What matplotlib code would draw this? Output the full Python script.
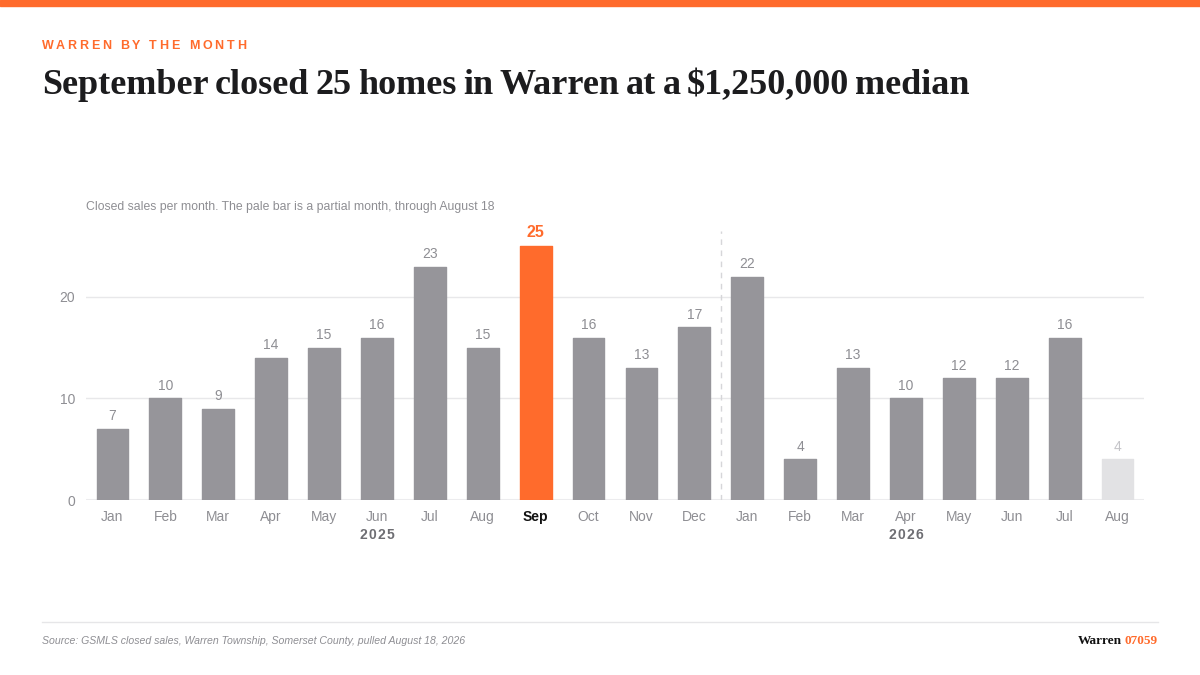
import matplotlib
matplotlib.use("Agg")
import matplotlib.pyplot as plt
from matplotlib.patches import Rectangle
from matplotlib.lines import Line2D

# ---- data ----
months = ["Jan", "Feb", "Mar", "Apr", "May", "Jun", "Jul", "Aug", "Sep", "Oct", "Nov", "Dec",
          "Jan", "Feb", "Mar", "Apr", "May", "Jun", "Jul", "Aug"]
sales = [7, 10, 9, 14, 15, 16, 23, 15, 25, 16, 13, 17,
         22, 4, 13, 10, 12, 12, 16, 4]
years = ["2025", "2026"]
year_label_index = [5, 15]
highlight_index = 8
partial_index = 19
yticks = [0, 10, 20]

title = "September closed 25 homes in Warren at a $1,250,000 median"
kicker = "WARREN BY THE MONTH"
subtitle = "Closed sales per month. The pale bar is a partial month, through August 18"
source = "Source: GSMLS closed sales, Warren Township, Somerset County, pulled August 18, 2026"

ORANGE = "#FF6B2C"
GRAY = "#96959A"
PALE = "#E2E2E4"
TXT_GRAY = "#8E8E93"
DARK = "#1C1C1E"

W, H = 1200, 675
fig = plt.figure(figsize=(12, 6.75), dpi=100)
fig.patch.set_facecolor("white")

def fx(px):
    return px / W

def fy(py):
    return 1 - py / H

# top stripe
fig.patches.append(Rectangle((0, fy(6)), 1, 6 / H, transform=fig.transFigure,
                             color=ORANGE, zorder=5))

renderer = fig.canvas.get_renderer()

def text_w(s, **kw):
    t = fig.text(0, 0, s, **kw)
    w = t.get_window_extent(renderer).width
    t.remove()
    return w

def spaced(x_px, y_px, s, target_w, center=False, **kw):
    """Letter-spaced (wider than natural) text of total width target_w."""
    n = len(s)
    natural = text_w(s, **kw)
    track = (target_w - natural) / (n - 1)
    x0 = x_px - target_w / 2 if center else x_px
    for i, ch in enumerate(s):
        if ch == " ":
            continue
        p = text_w(s[:i + 1], **kw) - text_w(ch, **kw) + track * i
        fig.text(fx(x0 + p), fy(y_px), ch, va="baseline", ha="left", **kw)

def tight_words(x_px, y_px, s, target_w, **kw):
    """Words at natural width, word gaps tightened so the line is target_w."""
    words = s.split(" ")
    ws = [text_w(w, **kw) for w in words]
    gap = (target_w - sum(ws)) / (len(words) - 1)
    x = x_px
    for w, wd in zip(words, ws):
        fig.text(fx(x), fy(y_px), w, va="baseline", ha="left", **kw)
        x += wd + gap

# kicker
spaced(42, 49, kicker, 204, fontsize=9, fontweight="bold", color=ORANGE,
       family="Liberation Sans")

# title
tight_words(42, 94, title, 928, fontsize=26, fontweight="bold", color=DARK,
            family="Liberation Serif")

# subtitle
fig.text(fx(86), fy(210), subtitle, fontsize=8.8, color=TXT_GRAY,
         family="Liberation Sans", va="baseline", ha="left")

# axes
ax = fig.add_axes([fx(86), fy(500), fx(1144) - fx(86), fy(231) - fy(500)])
ax.set_xlim(-0.5, len(sales) - 0.5)
ax.set_ylim(0, 26.5)
for s in ax.spines.values():
    s.set_visible(False)
ax.set_yticks(yticks)
ax.set_yticklabels([str(v) for v in yticks], color=TXT_GRAY, fontsize=10,
                   family="Liberation Sans")
ax.tick_params(axis="y", length=0, pad=8)
ax.grid(axis="y", color="#E8E8EA", linewidth=1)
ax.set_axisbelow(True)
ax.axhline(0, color="#EDEDEF", linewidth=1.5, zorder=0)

colors = []
for i in range(len(sales)):
    if i == highlight_index:
        colors.append(ORANGE)
    elif i == partial_index:
        colors.append(PALE)
    else:
        colors.append(GRAY)

x = list(range(len(sales)))
bars = ax.bar(x, sales, width=0.6, color=colors, edgecolor=colors, linewidth=1.0,
              zorder=3)
for b in bars:
    b.set_joinstyle("round")

for i, v in enumerate(sales):
    if i == highlight_index:
        ax.annotate(str(v), (i, v), xytext=(0, 4.5), textcoords="offset points",
                    ha="center", va="bottom", fontsize=11.5, fontweight="bold",
                    color=ORANGE, family="Liberation Sans")
    else:
        ax.annotate(str(v), (i, v), xytext=(0, 4), textcoords="offset points",
                    ha="center", va="bottom", fontsize=10,
                    color="#C4C4C8" if i == partial_index else TXT_GRAY,
                    family="Liberation Sans")

ax.set_xticks(x)
ax.set_xticklabels(months, fontsize=10, family="Liberation Sans", color=TXT_GRAY)
ax.tick_params(axis="x", length=0, pad=7)
for i, lbl in enumerate(ax.get_xticklabels()):
    if i == highlight_index:
        lbl.set_color("#111111")
        lbl.set_fontweight("bold")

# year divider
ax.axvline(11.5, ymin=0, ymax=1, color="#D6D6D9", linestyle=(0, (4, 4)),
           linewidth=1, zorder=1)

# year labels
for yl, idx in zip(years, year_label_index):
    xp = ax.transData.transform((idx, 0))[0]
    spaced(xp, 539, yl, 34, center=True, fontsize=10, fontweight="bold",
           color="#6E6E73", family="Liberation Sans")

# footer
fig.add_artist(Line2D([fx(42), fx(1158)], [fy(622), fy(622)], color="#E6E6E8",
                      linewidth=1, transform=fig.transFigure))
fig.text(fx(42), fy(644), source, fontsize=7.55, style="italic", color=TXT_GRAY,
         family="Liberation Sans", va="baseline", ha="left")

t2 = fig.text(fx(1158), fy(644), "07059", fontsize=9.5, fontweight="bold", color=ORANGE,
              family="Liberation Serif", va="baseline", ha="right")
w2 = t2.get_window_extent(renderer).width
fig.text(fx(1158 - w2 - 3), fy(644), "Warren", fontsize=9.5, fontweight="bold",
         color="#111111", family="Liberation Serif", va="baseline", ha="right")

fig.savefig("out.png", dpi=100, facecolor="white")
